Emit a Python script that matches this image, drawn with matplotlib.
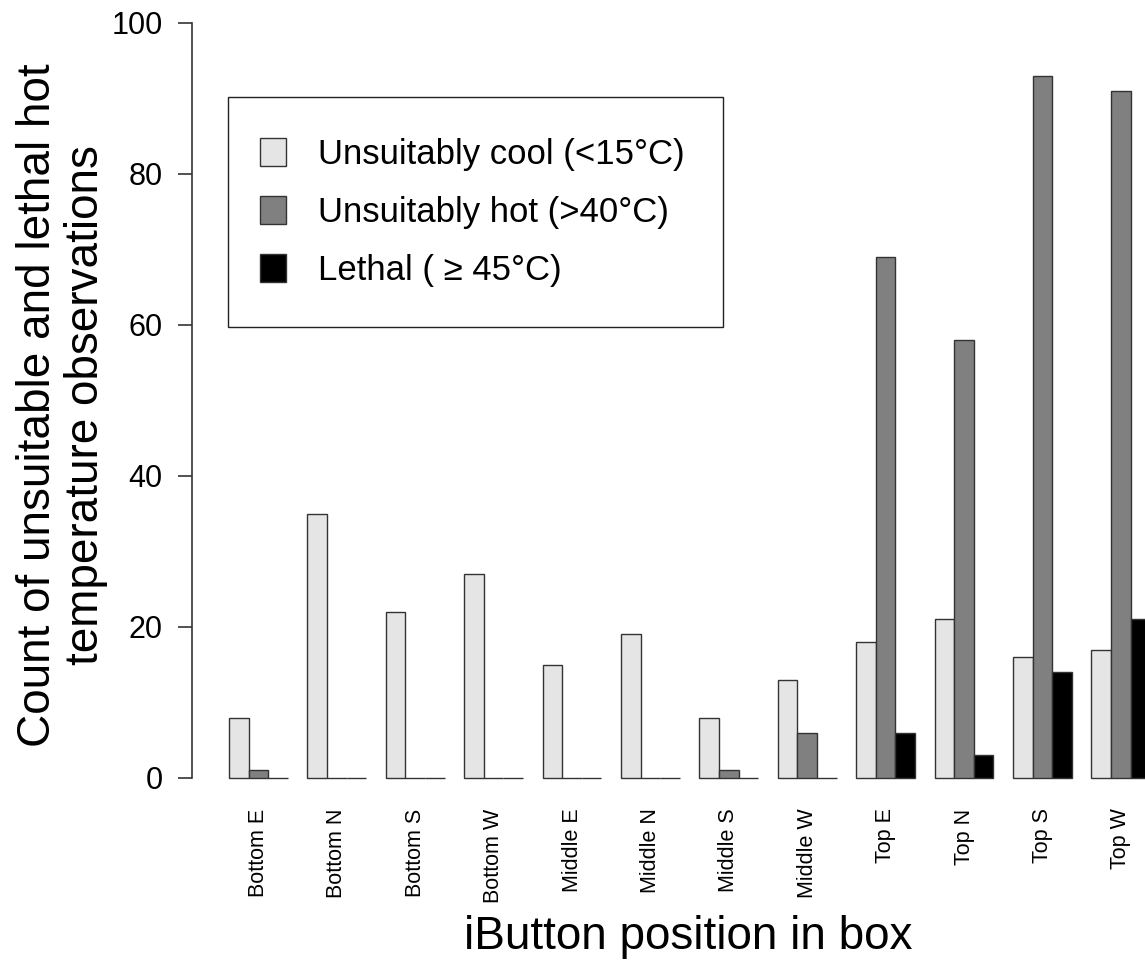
import matplotlib
matplotlib.use("Agg")
import matplotlib.pyplot as plt
import numpy as np
from matplotlib.patches import Rectangle

positions = ["Bottom E", "Bottom N", "Bottom S", "Bottom W",
             "Middle E", "Middle N", "Middle S", "Middle W",
             "Top E", "Top N", "Top S", "Top W"]
cool = [8, 35, 22, 27, 15, 19, 8, 13, 18, 21, 16, 17]
hot = [1, 0, 0, 0, 0, 0, 1, 6, 69, 58, 93, 91]
lethal = [0, 0, 0, 0, 0, 0, 0, 0, 6, 3, 14, 21]

series_labels = ["Unsuitably cool (<15°C)", "Unsuitably hot (>40°C)",
                 "Lethal ( \u2265 45°C)"]
colors = ["#e5e5e5", "#808080", "#000000"]

plt.rcParams['font.family'] = ['Liberation Sans', 'DejaVu Sans']

W, H = 1145, 961
fig = plt.figure(figsize=(W / 100, H / 100), dpi=100)

# axes placed in pixel terms (R barplot look)
left_px, right_px = 192, 1145
bot_px, top_px = 793.1, 15.1
ax = fig.add_axes([left_px / W, 1 - bot_px / H,
                   (right_px - left_px) / W, (bot_px - top_px) / H])

# R barplot beside=TRUE, space=c(0,1): groups of 3 bars + 1 gap
n = len(positions)
group_start = 1 + 4 * np.arange(n)
handles = []
for j, (vals, col, lab) in enumerate(zip([cool, hot, lethal], colors, series_labels)):
    b = ax.bar(group_start + j + 0.5, vals, width=1.0, color=col,
               edgecolor="#333333", linewidth=1.0, label=lab)
    handles.append(b)

ax.set_xlim(-0.89, 47.73)
ax.set_ylim(-2, 101)

ax.set_xticks(group_start + 1.5)
ax.set_xticklabels(positions, rotation=90, fontsize=15.5, va="top", ha="center")
ax.tick_params(axis="x", length=0, pad=11)

ax.set_yticks([0, 20, 40, 60, 80, 100])
ax.tick_params(axis="y", length=10, width=1.2, pad=11, labelsize=22,
               color="#333333")

for s in ["top", "right", "bottom"]:
    ax.spines[s].set_visible(False)
ax.spines["left"].set_bounds(0, 100)
ax.spines["left"].set_color("#333333")
ax.spines["left"].set_linewidth(1.2)

fig.text(688 / W, 1 - 937 / H, "iButton position in box", fontsize=33,
         ha="center", va="center")
fig.text(62 / W, 1 - 405 / H,
         "Count of unsuitable and lethal hot\ntemperature observations",
         fontsize=33, rotation=90, ha="center", va="center",
         multialignment="center", linespacing=1.1)

# legend with a separate frame box
leg = ax.legend(handles=handles, loc="upper left",
                bbox_to_anchor=(260 / W, 1 - 138 / H),
                bbox_transform=fig.transFigure, frameon=False,
                fontsize=25, borderpad=0, handlelength=0.75,
                handleheight=0.84, handletextpad=0.92, labelspacing=0.72,
                borderaxespad=0)
fig.add_artist(Rectangle((228 / W, 1 - 327 / H), (723 - 228) / W,
                         (327 - 97) / H, transform=fig.transFigure,
                         fill=False, edgecolor="#222222", linewidth=1.0))

fig.savefig("out.png", dpi=100)
